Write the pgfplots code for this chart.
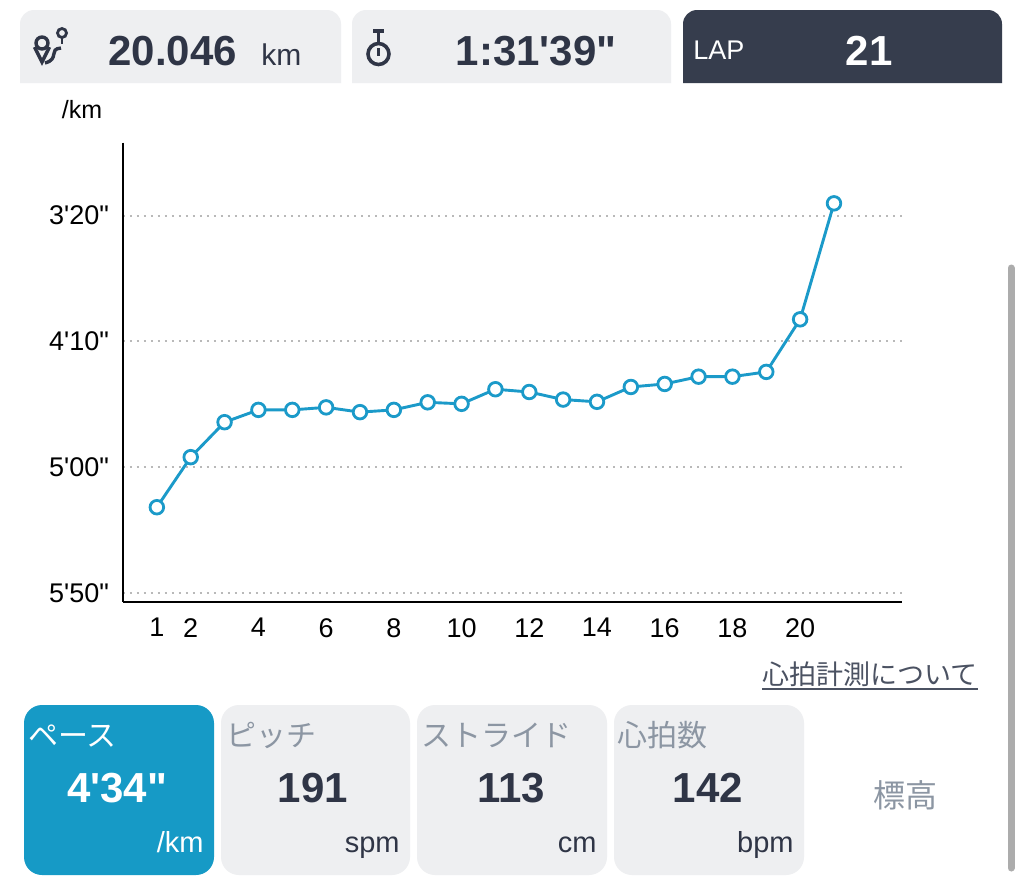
\documentclass[border=0pt]{standalone}
\usepackage{fontspec}
\setmainfont{Liberation Sans}[Ligatures=TeXOff]
\newfontfamily\jp{Noto Sans CJK JP}
\usepackage{pgfplots}
\pgfplotsset{compat=1.18}

\definecolor{paceblue}{RGB}{27,154,201}
\definecolor{tabblue}{RGB}{22,154,198}
\definecolor{navy}{RGB}{54,61,77}
\definecolor{boxgray}{RGB}{238,239,241}
\definecolor{ink}{RGB}{47,53,70}
\definecolor{lblgray}{RGB}{140,150,163}
\definecolor{linkgray}{RGB}{75,82,98}
\newcommand\fs[1]{\fontsize{#1}{#1}\selectfont}

% pace per lap, seconds per km
\pgfplotstableread{
lap pace
1 315.9
2 296.0
3 282.1
4 277.2
5 277.2
6 276.2
7 278.1
8 277.2
9 274.2
10 274.8
11 269.0
12 270.1
13 273.1
14 274.0
15 268.1
16 266.9
17 264.0
18 264.0
19 262.1
20 241.2
21 195.1
}\pacetable

\begin{document}
\begin{tikzpicture}[x=0.5pt,y=-0.5pt]
\fill[white] (0,0) rectangle (1024,885);
\path[use as bounding box] (0,0) rectangle (1024,885);

% header boxes
\fill[boxgray] (20,83) {[rounded corners=7pt] -- (20,10) -- (341,10)} -- (341,83) -- cycle;
\fill[boxgray] (352,83) {[rounded corners=7pt] -- (352,10) -- (671,10)} -- (671,83) -- cycle;
\fill[navy] (683,83) {[rounded corners=7pt] -- (683,10) -- (1002,10)} -- (1002,83) -- cycle;

% route icon
\draw[ink, line width=1.7pt] (42,43) circle (6);
\draw[ink, line width=1.7pt] (34.5,47) -- (42,62) -- (49.5,47);
\draw[ink, line width=1.4pt] (62,33) circle (4.5);
\draw[ink, line width=1.3pt] (62,38) -- (62,44);
\draw[ink, line width=1.7pt] (61,48) .. controls (48,49) and (60,59) .. (45,63);
% stopwatch icon
\draw[ink, line width=1.8pt] (378.5,54) circle (10.5);
\draw[ink, line width=2.2pt] (373,31) -- (384,31);
\draw[ink, line width=1.6pt] (378.5,31) -- (378.5,43.5);
\draw[ink, line width=1.8pt] (378.5,48) -- (378.5,56);

\node[anchor=base west, inner sep=0, text=ink, font=\fs{21}\bfseries] at (108,65) {20.046};
\node[anchor=base west, inner sep=0, text=ink, font=\fs{15}] at (261,65) {km};
\node[anchor=base, inner sep=0, text=ink, font=\fs{21}\bfseries] at (536,65) {1:31'39"};
\node[anchor=base west, inner sep=0, text=white, font=\fs{13.5}] at (693,59) {LAP};
\node[anchor=base, inner sep=0, text=white, font=\fs{21}\bfseries] at (869,65) {21};

\node[inner sep=0, font=\fs{12.5}] at (82,110) {/km};

\coordinate (axo) at (123,602.3);
\begin{axis}[
  at={(axo)}, anchor=south west,
  scale only axis, width=389.35pt, height=229.8pt,
  xmin=0, xmax=23, ymin=171, ymax=353.7, y dir=reverse,
  axis x line*=bottom, axis y line*=left,
  axis line style={line width=1pt, black, -},
  major tick length=0pt,
  xtick={1,2,4,6,8,10,12,14,16,18,20},
  ytick={200,250,300,350},
  yticklabels={3'20",4'10",5'00",5'50"},
  /pgf/number format/assume math mode=true,
  tick label style={font=\fs{13.5}},
  xticklabel style={yshift=-4.5pt},
  yticklabel style={xshift=-3.5pt},
  ymajorgrids,
  grid style={gray!55, line width=1pt, dash pattern=on 1pt off 2.5pt},
  clip=false,
]
\addplot[paceblue, line width=1.45pt, mark=*,
  mark options={fill=white, draw=paceblue, line width=1.4pt}, mark size=3.4pt]
  table[x=lap, y=pace] {\pacetable};
\end{axis}

% link
\node[anchor=base east, inner sep=0, text=linkgray, font=\jp\fs{13.5}] (lk) at (978,684) {心拍計測について};
\draw[linkgray, line width=0.8pt] (lk.base west) ++(0,5) -- ++(216,0);

% bottom tabs
\fill[tabblue, rounded corners=9pt] (24,705) rectangle (214,875);
\fill[boxgray, rounded corners=9pt] (221,705) rectangle (410,875);
\fill[boxgray, rounded corners=9pt] (417,705) rectangle (607,875);
\fill[boxgray, rounded corners=9pt] (614,705) rectangle (804,875);

\node[anchor=base west, inner sep=0, text=white, font=\jp\fs{15}] at (28,746) {ペース};
\node[anchor=base west, inner sep=0, text=lblgray, font=\jp\fs{15}] at (226,746) {ピッチ};
\node[anchor=base west, inner sep=0, text=lblgray, font=\jp\fs{15}] at (421,746) {ストライド};
\node[anchor=base west, inner sep=0, text=lblgray, font=\jp\fs{15}] at (617,746) {心拍数};

\node[anchor=base, inner sep=0, text=white, font=\fs{21}\bfseries] at (117,802) {4'34"};
\node[anchor=base, inner sep=0, text=ink, font=\fs{21}\bfseries] at (313,802) {191};
\node[anchor=base, inner sep=0, text=ink, font=\fs{21}\bfseries] at (511,802) {113};
\node[anchor=base, inner sep=0, text=ink, font=\fs{21}\bfseries] at (708,802) {142};

\node[anchor=base east, inner sep=0, text=white, font=\fs{14.5}] at (204,852) {/km};
\node[anchor=base east, inner sep=0, text=ink, font=\fs{14.5}] at (400,852) {spm};
\node[anchor=base east, inner sep=0, text=ink, font=\fs{14.5}] at (597,852) {cm};
\node[anchor=base east, inner sep=0, text=ink, font=\fs{14.5}] at (794,852) {bpm};

\node[inner sep=0, text=lblgray, font=\jp\fs{16}] at (905,795) {標高};

% scrollbar
\draw[gray!65, line width=3.5pt, line cap=round] (1011,268) -- (1011,868);
\end{tikzpicture}
\end{document}
